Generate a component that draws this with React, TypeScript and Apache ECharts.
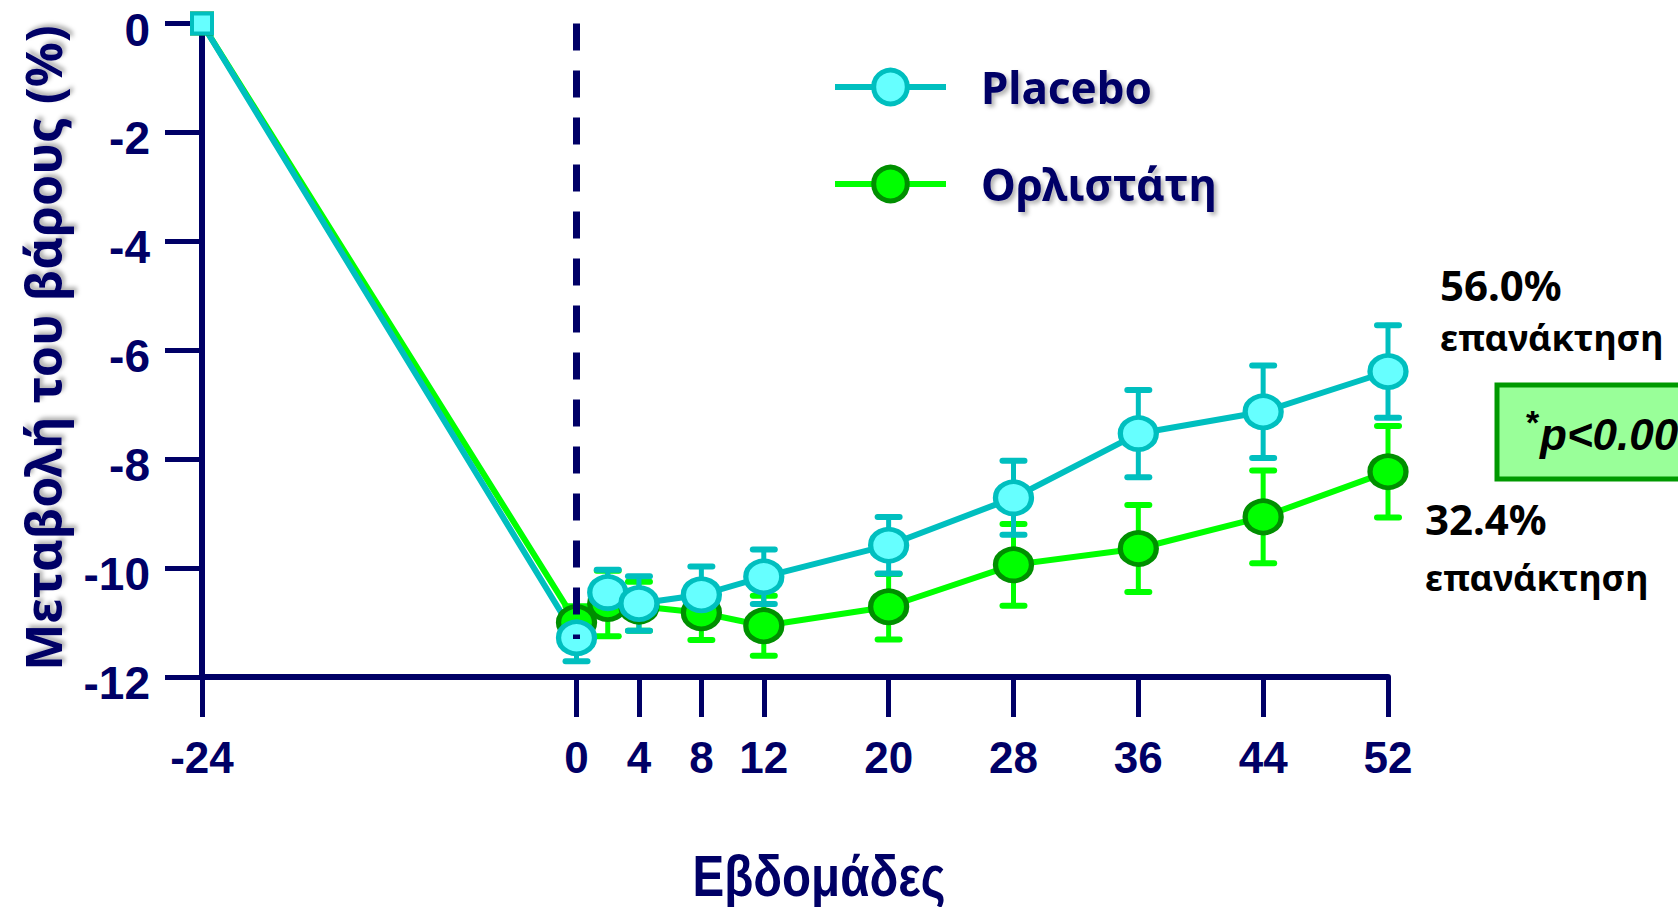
import React, { useEffect, useRef } from "react";
import * as echarts from "echarts";

const weeks = [-24, 0, 2, 4, 8, 12, 20, 28, 36, 44, 52];
const xTicks = [-24, 0, 4, 8, 12, 20, 28, 36, 44, 52];
const placebo = [0, -11.28, -10.45, -10.65, -10.49, -10.16, -9.58, -8.71, -7.53, -7.13, -6.39];
const placeboSE = [0, 0.43, 0.42, 0.5, 0.52, 0.5, 0.52, 0.68, 0.8, 0.85, 0.85];
const orlistat = [0, -11.0, -10.65, -10.7, -10.82, -11.06, -10.71, -9.94, -9.64, -9.06, -8.23];
const orlistatSE = [0, 0.3, 0.6, 0.45, 0.5, 0.55, 0.6, 0.75, 0.8, 0.85, 0.84];
const seriesNames = ["Placebo", "Ορλιστάτη"];
const yTitle = "Μεταβολή του βάρους (%)";
const xTitle = "Εβδομάδες";
const notes = ["56.0%", "επανάκτηση", "32.4%", "επανάκτηση"];
const pText = "p<0.001";

const NAVY = "#000066";
const TEAL = "#00BFBF";
const CYAN = "#66FFFF";
const GREEN = "#00FF00";
const DKGREEN = "#008F00";
const SHADOW = {
  textShadowColor: "rgba(0,0,0,0.3)",
  textShadowBlur: 4,
  textShadowOffsetX: 3,
  textShadowOffsetY: 3,
};

function errSeries(vals: number[], se: number[], color: string) {
  return {
    type: "custom",
    clip: false,
    silent: true,
    data: weeks.map((w, i) => [w, vals[i], se[i]]),
    renderItem: (params: any, api: any) => {
      const x = api.value(0);
      const y = api.value(1);
      const e = api.value(2);
      if (!e) return null;
      const t = api.coord([x, y + e]);
      const b = api.coord([x, y - e]);
      const hw = 11;
      return {
        type: "group",
        children: [
          { type: "line", shape: { x1: t[0], y1: t[1], x2: b[0], y2: b[1] }, style: { stroke: color, lineWidth: 5 } },
          { type: "line", shape: { x1: t[0] - hw, y1: t[1], x2: t[0] + hw, y2: t[1] }, style: { stroke: color, lineWidth: 6, lineCap: "round" } },
          { type: "line", shape: { x1: b[0] - hw, y1: b[1], x2: b[0] + hw, y2: b[1] }, style: { stroke: color, lineWidth: 6, lineCap: "round" } },
        ],
      };
    },
  };
}

function lineData(vals: number[]) {
  return weeks.map((w, i) =>
    i === 0 ? { value: [w, vals[i]], symbol: "rect", symbolSize: 20, itemStyle: { borderWidth: 4 } } : [w, vals[i]]
  );
}

const noteStyle = (text: string, size: number) => ({
  text,
  fontSize: size,
  fontWeight: "bold",
  fontFamily: "Noto Sans, sans-serif",
  fill: "#000",
  align: "left",
  verticalAlign: "middle",
});

export default function App() {
  const ref = useRef<HTMLDivElement>(null);
  useEffect(() => {
    if (!ref.current) return;
    const chart = echarts.init(ref.current, null, { renderer: "svg" });
    const option: any = {
      animation: false,
      backgroundColor: "#ffffff",
      grid: { left: 202, right: 290, top: 23.5, bottom: 230, outerBoundsMode: "none" },
      xAxis: {
        type: "value",
        min: -24,
        max: 52,
        splitLine: { show: false },
        axisLine: { show: true, onZero: false, lineStyle: { color: NAVY, width: 6 } },
        axisTick: { show: true, customValues: xTicks, length: 40, lineStyle: { color: NAVY, width: 5 } },
        axisLabel: {
          customValues: xTicks,
          margin: 58,
          color: NAVY,
          fontSize: 44,
          fontWeight: "bold",
          fontFamily: "Liberation Sans, Arial, sans-serif",
        },
      },
      yAxis: {
        type: "value",
        min: -12,
        max: 0,
        interval: 2,
        splitLine: { show: false },
        axisLine: { show: true, onZero: false, lineStyle: { color: NAVY, width: 6 } },
        axisTick: { show: true, length: 37, lineStyle: { color: NAVY, width: 5 } },
        axisLabel: {
          margin: 52,
          verticalAlign: "top",
          lineHeight: 12,
          color: NAVY,
          fontSize: 46,
          fontWeight: "bold",
          fontFamily: "Liberation Sans, Arial, sans-serif",
        },
      },
      legend: {
        data: seriesNames,
        orient: "vertical",
        left: 827,
        top: 60,
        itemWidth: 111,
        itemHeight: 42,
        itemGap: 53,
        lineStyle: { width: 6 },
        itemStyle: { borderWidth: 5 },
        textStyle: {
          color: NAVY,
          fontSize: 44,
          lineHeight: 44,
          fontWeight: "bold",
          fontFamily: "Noto Sans, sans-serif",
          padding: [0, 0, 0, 30],
          ...SHADOW,
        },
      },
      series: [
        errSeries(orlistat, orlistatSE, GREEN),
        {
          name: seriesNames[1],
          type: "line",
          data: lineData(orlistat),
          symbol: "circle",
          symbolSize: [36, 32],
          lineStyle: { color: GREEN, width: 6 },
          itemStyle: { color: GREEN, borderColor: DKGREEN, borderWidth: 5 },
          markLine: {
            silent: true,
            symbol: "none",
            label: { show: false },
            lineStyle: { color: NAVY, width: 7, type: [27, 20] },
            data: [[{ coord: [0, 0] }, { coord: [0, -11.3] }]],
          },
        },
        errSeries(placebo, placeboSE, TEAL),
        {
          name: seriesNames[0],
          type: "line",
          data: lineData(placebo),
          symbol: "circle",
          symbolSize: [36, 32],
          lineStyle: { color: TEAL, width: 6 },
          itemStyle: { color: CYAN, borderColor: TEAL, borderWidth: 5 },
        },
      ],
      graphic: [
        {
          type: "text",
          x: 43,
          y: 348,
          rotation: Math.PI / 2,
          style: {
            text: yTitle,
            fontSize: 50,
            fontWeight: "bold",
            fontFamily: "Noto Sans, sans-serif",
            fill: NAVY,
            align: "center",
            verticalAlign: "middle",
            ...SHADOW,
          },
        },
        {
          type: "text",
          x: 819,
          y: 876,
          scaleX: 0.82,
          style: {
            text: xTitle,
            fontSize: 58,
            fontWeight: "bold",
            fontFamily: "Liberation Sans, Arial, sans-serif",
            fill: NAVY,
            align: "center",
            verticalAlign: "middle",
          },
        },
        { type: "text", x: 1440, y: 284, style: noteStyle(notes[0], 42) },
        { type: "text", x: 1440, y: 337, style: noteStyle(notes[1], 36) },
        { type: "text", x: 1425, y: 518, style: noteStyle(notes[2], 42) },
        { type: "text", x: 1425, y: 577, style: noteStyle(notes[3], 36) },
        {
          type: "rect",
          shape: { x: 1497, y: 385, width: 260, height: 94 },
          style: { fill: "#99FF99", stroke: "#009900", lineWidth: 5 },
        },
        { type: "text", x: 1526, y: 422, style: { text: "*", fontSize: 34, fontWeight: "bold", fontFamily: "Liberation Sans, Arial, sans-serif", fill: "#000", align: "left", verticalAlign: "middle" } },
        { type: "text", x: 1540, y: 434, style: { text: pText, fontSize: 44, fontWeight: "bold", fontStyle: "italic", fontFamily: "Liberation Sans, Arial, sans-serif", fill: "#000", align: "left", verticalAlign: "middle" } },
      ],
    };
    chart.setOption(option);
    return () => chart.dispose();
  }, []);
  return (
    <div
      ref={ref}
      style={{ position: "absolute", left: 0, top: 0, width: 1678, height: 907, overflow: "hidden" }}
    />
  );
}
